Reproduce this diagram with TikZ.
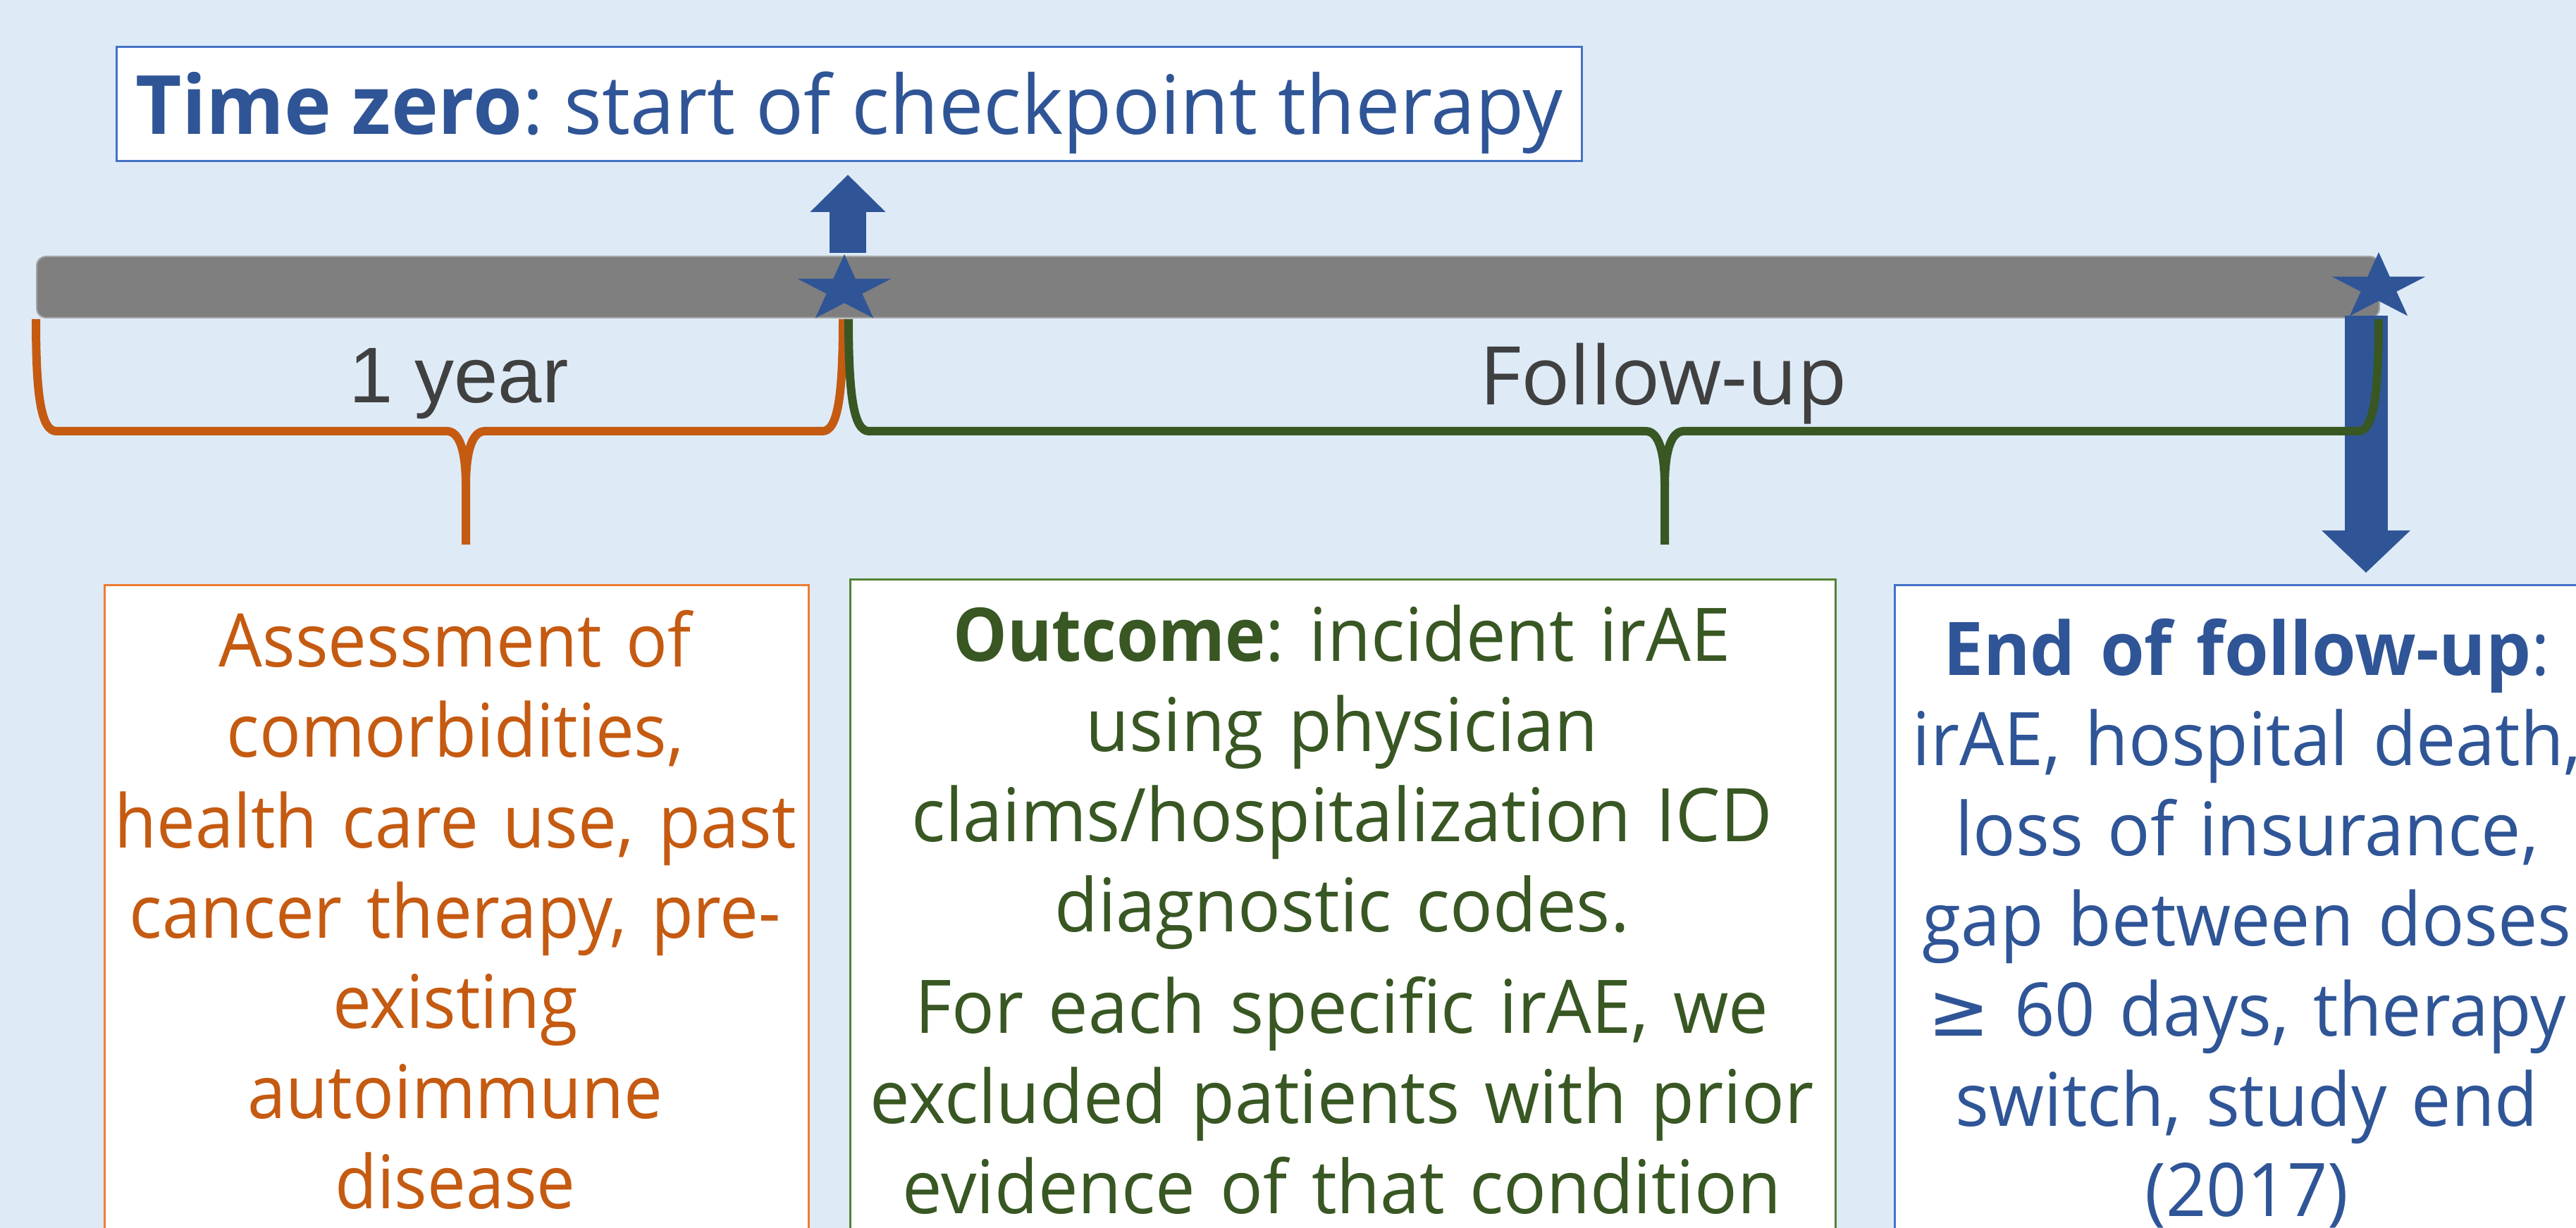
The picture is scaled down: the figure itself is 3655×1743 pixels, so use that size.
\documentclass[tikz,border=0pt]{standalone}
\usepackage{fontspec}
\setmainfont{Open Sans}
\newfontfamily\arialfont{Liberation Sans}
\newfontfamily\symfont{DejaVu Sans}
\newfontfamily\ofont[FakeStretch=0.93]{Open Sans}
\newfontfamily\gfont[FakeStretch=0.96]{Open Sans}
\newfontfamily\gbold[FakeStretch=0.92]{Open Sans}
\newfontfamily\bfont[FakeStretch=0.955]{Open Sans}
\newfontfamily\bbold[FakeStretch=0.965]{Open Sans}
\newfontfamily\tzfont[FakeStretch=0.975]{Open Sans}
\usetikzlibrary{arrows.meta}
\definecolor{bgblue}{HTML}{DEEBF7}
\definecolor{dkblue}{HTML}{2F5597}
\definecolor{txorange}{HTML}{C55A11}
\definecolor{txgreen}{HTML}{385723}
\definecolor{bdorange}{HTML}{ED7D31}
\definecolor{bdgreen}{HTML}{548235}
\definecolor{bdblue}{HTML}{4472C4}
\definecolor{bargray}{HTML}{7F7F7F}
\definecolor{barline}{HTML}{A5A5A5}
\definecolor{labgray}{HTML}{404040}
\frenchspacing
\begin{document}
\begin{tikzpicture}[x=0.2pt,y=-0.2pt,
  boxstyle/.style={draw=#1, line width=0.6pt, fill=white, inner sep=0pt, anchor=north west},
  boxtext/.style={anchor=base, inner sep=0pt, text width=400pt, align=center, text=#1},
  lab/.style={anchor=base, inner sep=0pt, text=labgray},
  bracestyle/.style={draw=#1, line width=2.4pt, line join=round, line cap=butt},
  blockarrow/.style={draw=dkblue, line width=#1, line cap=butt},
  barstyle/.style={fill=bargray, draw=barline, line width=0.4pt, rounded corners=2.6pt, inner sep=0pt, anchor=north west}
]
\useasboundingbox (0,0) rectangle (3655,1743);
\fill[bgblue] (0,0) rectangle (3655,1743);
\clip (0,0) rectangle (3655,1743);

% time zero box
\node[draw=bdblue, line width=0.6pt, fill=white, inner sep=0pt,
      minimum width=415.6pt, minimum height=32.4pt, text height=17.2pt, text depth=0pt,
      text=dkblue, font=\tzfont\fontsize{23.2pt}{28pt}\selectfont] (tz) at (1205,148)
  {\textbf{Time zero}: start of checkpoint therapy};

% timeline bar
\node[barstyle, minimum width=664.8pt, minimum height=17.4pt] (bar) at (51,363) {};

% arrows
\coordinate (upstart) at (1203,359);
\coordinate (uptip) at (1203,248);
\coordinate (downstart) at (3357,448);
\coordinate (downtip) at (3357,813);
\draw[blockarrow=10.4pt, -{Triangle[length=10.6pt,width=20.8pt]}] (upstart) -- (uptip);
\draw[blockarrow=12.2pt, -{Triangle[length=12pt,width=24.4pt]}] (downstart) -- (downtip);

% braces
\draw[bracestyle=txorange] (51,453) .. controls (51,560) and (58,612) .. (80,612) -- (634,612)
   .. controls (652,612) and (661,640) .. (661,690) -- (661,773);
\draw[bracestyle=txorange] (1196,453) .. controls (1196,560) and (1189,612) .. (1167,612) -- (688,612)
   .. controls (670,612) and (661,640) .. (661,690);
\draw[bracestyle=txgreen] (1204,453) .. controls (1204,560) and (1211,612) .. (1233,612) -- (2335,612)
   .. controls (2353,612) and (2362,640) .. (2362,690) -- (2362,773);
\draw[bracestyle=txgreen] (3375,453) .. controls (3375,560) and (3368,612) .. (3346,612) -- (2389,612)
   .. controls (2371,612) and (2362,640) .. (2362,690);

% stars
\coordinate (star1) at (1198,411);
\coordinate (star2) at (3375,408);
\foreach \s in {star1,star2}{
  \fill[dkblue] (\s) +(-90:70 and 50) -- +(-54:26.7 and 19.1) -- +(-18:70 and 50) -- +(18:26.7 and 19.1)
    -- +(54:70 and 50) -- +(90:26.7 and 19.1) -- +(126:70 and 50) -- +(162:26.7 and 19.1)
    -- +(198:70 and 50) -- +(234:26.7 and 19.1) -- cycle;
}

% labels
\node[lab, font=\arialfont\fontsize{22.4pt}{26pt}\selectfont] (oneyear) at (651,572) {1 year};
\node[lab, font=\fontsize{23pt}{27pt}\selectfont] (followup) at (2360,575) {Follow-up};

% lower boxes
\node[boxstyle=bdorange, minimum width=199.8pt, minimum height=200pt] (obox) at (147,829) {};
\node[boxstyle=bdgreen, minimum width=279.6pt, minimum height=200pt] (gbox) at (1205,821) {};
\node[boxstyle=bdblue, minimum width=200.4pt, minimum height=200pt] (bbox) at (2687,829) {};

\node[boxtext=txorange, font=\ofont\fontsize{21pt}{25.6pt}\selectfont] (otext) at (646,947)
  {Assessment of\\ comorbidities,\\ health care use, past\\ cancer therapy, pre-\\ existing\\ autoimmune\\ disease};
\node[boxtext=txgreen, font=\gfont\fontsize{21pt}{25.6pt}\selectfont] (gtext) at (1904,938)
  {{\gbold\bfseries Outcome}: incident irAE\\ using physician\\ claims/hospitalization ICD\\ diagnostic codes.\\[3.2pt]
   For each specific irAE, we\\ excluded patients with prior\\ evidence of that condition};
\node[boxtext=dkblue, font=\bfont\fontsize{21pt}{25.6pt}\selectfont] (btext) at (3188,958)
  {{\bbold\bfseries End of follow-up}:\\ irAE, hospital death,\\ loss of insurance,\\ gap between doses\\
   {\symfont ≥} 60 days, therapy\\ switch, study end\\ (2017)};
\end{tikzpicture}
\end{document}
